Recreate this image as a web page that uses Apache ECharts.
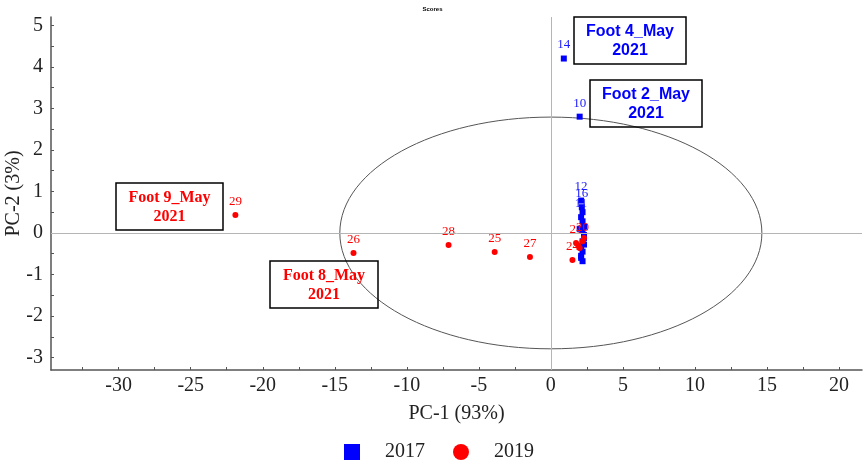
<!DOCTYPE html>
<html>
<head>
    <meta charset="utf-8">
    <title>Scores</title>
    <script src="https://cdn.jsdelivr.net/npm/echarts@6/dist/echarts.min.js"></script>
    <style>
        html, body { margin: 0; padding: 0; background: #fff; }
    </style>
</head>
<body>
<div id="main" style="width: 865px;height:462px"></div>
<script type="text/javascript">
    // scores: [PC-1, PC-2, sample no.]
    var scores2017 = [
        [2.2, 0.05, 1], [2.3, -0.12, 2], [2.2, -0.2, 3], [2.1, -0.35, 4],
        [2.2, -0.45, 5], [2.1, -0.55, 6], [2.2, -0.68, 7], [2.3, 0.15, 8],
        [2.2, 0.28, 9], [2.0, 2.8, 10], [2.1, 0.38, 11], [2.1, 0.78, 12],
        [2.3, -0.05, 13], [0.9, 4.2, 14], [2.2, 0.5, 15], [2.15, 0.62, 16],
        [2.0, 0.1, 17], [2.3, -0.28, 18], [2.1, -0.6, 19]
    ];
    var scores2019 = [
        [2.2, -0.2, 20], [1.75, -0.24, 21], [1.9, -0.3, 22], [2.3, -0.12, 23],
        [1.5, -0.65, 24], [-3.9, -0.46, 25], [-13.7, -0.48, 26], [-1.45, -0.58, 27],
        [-7.1, -0.29, 28], [-21.9, 0.43, 29], [2.0, -0.36, 30]
    ];
    // numbers that are covered by the crowd of marks in the picture
    var hiddenLabels = [1, 2, 3, 4, 5, 6, 7, 8, 9, 13, 15, 17, 18, 19, 22, 23, 30];
    var xLabels = [-30, -25, -20, -15, -10, -5, 0, 5, 10, 15, 20];
    var xTicks = [-32.5, -30, -27.5, -25, -22.5, -20, -17.5, -15, -12.5, -10, -7.5, -5, -2.5,
        0, 2.5, 5, 7.5, 10, 12.5, 15, 17.5, 20];
    var yLabels = [-3, -2, -1, 0, 1, 2, 3, 4, 5];
    var yTicks = [-3, -2.5, -2, -1.5, -1, -0.5, 0, 0.5, 1, 1.5, 2, 2.5, 3, 3.5, 4, 4.5, 5];
    // Hotelling ellipse half axes
    var ellipseRx = 14.65;
    var ellipseRy = 2.79;

    var serif = 'Liberation Serif';
    var myChart = echarts.init(document.getElementById('main'));

    function toItems(list) {
        return list.map(function (d) {
            var item = {value: d};
            if (hiddenLabels.indexOf(d[2]) >= 0) {
                item.label = {show: false};
            }
            return item;
        });
    }

    function box(x, y, w, h, text, color, font) {
        return [
            {
                type: 'rect',
                shape: {x: x, y: y, width: w, height: h},
                style: {fill: 'transparent', stroke: '#000', lineWidth: 1.5},
                z: 10
            },
            {
                type: 'text',
                style: {
                    text: text, x: x + w / 2, y: y + h / 2 + 1,
                    textAlign: 'center', textVerticalAlign: 'middle',
                    font: font, lineHeight: 19, fill: color
                },
                z: 10
            }
        ];
    }

    var option = {
        animation: false,
        title: {
            text: 'Scores',
            left: 'center',
            top: 1,
            textStyle: {fontSize: 6, fontWeight: 'bold', color: '#000', fontFamily: 'Liberation Sans'}
        },
        legend: {
            data: ['2017', '2019'],
            left: 339,
            top: 437,
            itemWidth: 16,
            itemHeight: 16,
            itemGap: 28,
            textStyle: {fontFamily: serif, fontSize: 20, color: '#222', padding: [0, 0, 0, 20]}
        },
        grid: {left: 51, right: 3, top: 17, bottom: 92, containLabel: false, outerBoundsMode: 'none'},
        xAxis: {
            type: 'value',
            min: -34.7,
            max: 21.6,
            name: 'PC-1 (93%)',
            nameLocation: 'middle',
            nameGap: 34,
            nameMoveOverlap: false,
            nameTextStyle: {fontFamily: serif, fontSize: 20, color: '#222'},
            splitLine: {show: false},
            axisLine: {onZero: false, lineStyle: {color: '#555', width: 1.5}},
            axisTick: {inside: true, length: 3, customValues: xTicks, lineStyle: {color: '#555'}},
            axisLabel: {customValues: xLabels, margin: 6, fontFamily: serif, fontSize: 20, color: '#222'}
        },
        yAxis: {
            type: 'value',
            min: -3.3,
            max: 5.2,
            name: 'PC-2 (3%)',
            nameLocation: 'middle',
            nameGap: 27,
            nameMoveOverlap: false,
            nameTextStyle: {fontFamily: serif, fontSize: 20, color: '#222'},
            splitLine: {show: false},
            axisLine: {onZero: false, lineStyle: {color: '#555', width: 1.5}},
            axisTick: {inside: true, length: 3, customValues: yTicks, lineStyle: {color: '#555'}},
            axisLabel: {customValues: yLabels, margin: 8, fontFamily: serif, fontSize: 20, color: '#222'}
        },
        graphic: [].concat(
            box(574, 17, 112, 47, 'Foot 4_May\n2021', '#0000ff', 'bold 16px Liberation Sans'),
            box(590, 80, 112, 47, 'Foot 2_May\n2021', '#0000ff', 'bold 16px Liberation Sans'),
            box(116, 183, 107, 47, 'Foot 9_May\n2021', '#ff0000', 'bold 16px Liberation Serif'),
            box(270, 261, 108, 47, 'Foot 8_May\n2021', '#ff0000', 'bold 16px Liberation Serif')
        ),
        series: [
            {
                name: 'ellipse',
                type: 'custom',
                silent: true,
                data: [[0, 0]],
                renderItem: function (params, api) {
                    var c = api.coord([api.value(0), api.value(1)]);
                    var rx = api.size([ellipseRx, 0])[0];
                    var ry = api.size([0, ellipseRy])[1];
                    return {
                        type: 'ellipse',
                        shape: {cx: c[0], cy: c[1], rx: rx, ry: ry},
                        style: {fill: 'none', stroke: '#555', lineWidth: 1}
                    };
                },
                markLine: {
                    silent: true,
                    symbol: 'none',
                    label: {show: false},
                    lineStyle: {color: '#b5b5b5', width: 1, type: 'solid'},
                    data: [{xAxis: 0}, {yAxis: 0}]
                },
                z: 1
            },
            {
                name: '2019',
                type: 'scatter',
                symbol: 'circle',
                symbolSize: 6,
                itemStyle: {color: '#ff0000', opacity: 1},
                label: {
                    show: true,
                    position: 'top',
                    distance: 4,
                    formatter: function (p) { return p.value[2]; },
                    fontFamily: serif,
                    fontSize: 13,
                    color: '#ff0000'
                },
                data: toItems(scores2019),
                z: 3
            },
            {
                name: '2017',
                type: 'scatter',
                symbol: 'rect',
                symbolSize: 6,
                itemStyle: {color: '#0000ff', opacity: 1},
                label: {
                    show: true,
                    position: 'top',
                    distance: 4,
                    formatter: function (p) { return p.value[2]; },
                    fontFamily: serif,
                    fontSize: 13,
                    color: '#1a1aff'
                },
                data: toItems(scores2017),
                z: 2
            }
        ]
    };

    myChart.setOption(option);
</script>
</body>
</html>
